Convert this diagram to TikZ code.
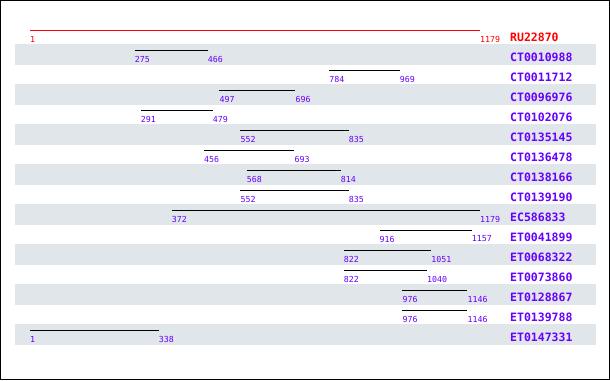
\documentclass[tikz,border=0pt]{standalone}
\usepackage{fontspec}
\usepackage{tikz}
\usetikzlibrary{positioning}
\newfontfamily\monofont{DejaVu Sans Mono}
\definecolor{hitPurple}{RGB}{102, 0, 255}
\definecolor{queryRed}{RGB}{255, 0, 0}
\definecolor{bandGray}{RGB}{225, 230, 234}

\begin{document}
\begin{tikzpicture}[x=1pt, y=-1pt,
    idlabel/.style={anchor=west, inner sep=0pt, font=\monofont\bfseries\fontsize{11.5}{12}\selectfont},
    poslabel/.style={anchor=west, inner sep=0pt, font=\monofont\fontsize{8.3}{9}\selectfont}]
            % 枠
            \useasboundingbox (0,0) rectangle (610,380);
            \draw[black, line width=1pt] (0.5,0.5) rectangle (609.5,379.5);

            % 縞模様の帯
            \foreach \i in {1,3,...,15}
                \fill[bandGray] (15, 24+20*\i) rectangle (596, 45+20*\i);

            % 基準配列 (1..1179)
            \coordinate (Qa) at (30, 30);
            \coordinate (Qb) at (480, 30);
            \draw[queryRed, line width=1pt] (Qa) -- (Qb);
            \node[poslabel, text=queryRed] (qa) at (30, 39) {1};
            \node[poslabel, text=queryRed] (qb) at (480, 39) {1179};
            \node[idlabel, text=queryRed] (q) at (510, 37) {RU22870};

            % ヒット
            \foreach \i/\name/\a/\b in {
                1/CT0010988/275/466, 2/CT0011712/784/969,
                3/CT0096976/497/696, 4/CT0102076/291/479,
                5/CT0135145/552/835, 6/CT0136478/456/693,
                7/CT0138166/568/814, 8/CT0139190/552/835,
                9/EC586833/372/1179, 10/ET0041899/916/1157,
                11/ET0068322/822/1051, 12/ET0073860/822/1040,
                13/ET0128867/976/1146, 14/ET0139788/976/1146,
                15/ET0147331/1/338} {
                \pgfmathsetmacro\xa{30+(\a-1)/1178*450}
                \pgfmathsetmacro\xb{30+(\b-1)/1178*450}
                \pgfmathsetmacro\yy{30+20*\i}
                \coordinate (h\i a) at (\xa, \yy);
                \coordinate (h\i b) at (\xb, \yy);
                \draw[black, line width=1pt] (h\i a) -- (h\i b);
                \node[poslabel, text=hitPurple] (p\i a) at (\xa, \yy+9) {\a};
                \node[poslabel, text=hitPurple] (p\i b) at (\xb, \yy+9) {\b};
                \node[idlabel, text=hitPurple] (n\i) at (510, \yy+7) {\name};
            }
        \end{tikzpicture}
\end{document}
